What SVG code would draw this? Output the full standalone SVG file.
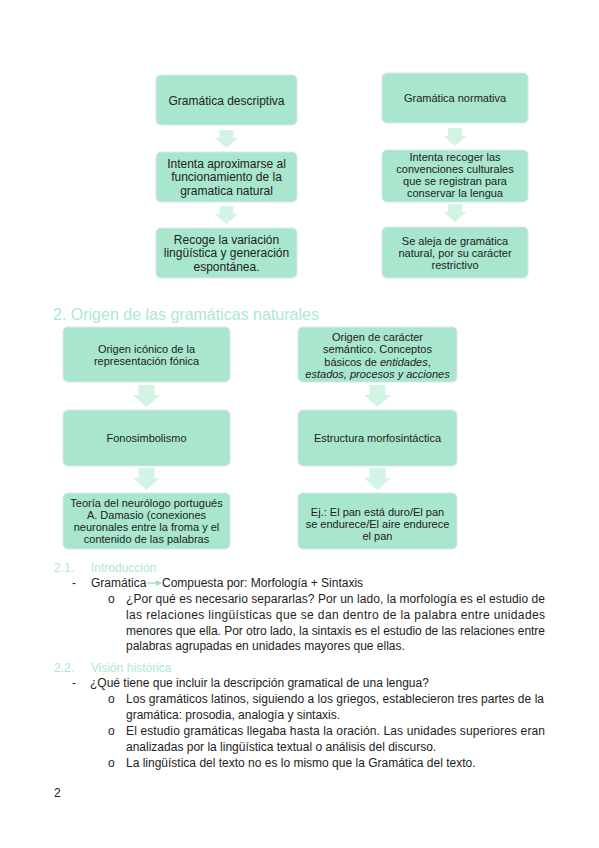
<svg xmlns="http://www.w3.org/2000/svg" width="599" height="848" viewBox="0 0 599 848">
<style>
.box{fill:#a8e6cd;stroke:#dbe4f0;stroke-width:1}
.arr{fill:#d3f3e5}
.t12{font-family:"Liberation Sans",Arial,sans-serif;font-size:12px;fill:#222;text-anchor:middle}
.t11{font-family:"Liberation Sans",Arial,sans-serif;font-size:11px;fill:#222;text-anchor:middle}
.body{font-family:"Liberation Sans",Arial,sans-serif;font-size:12px;fill:#222}
.head{font-family:"Liberation Sans",Arial,sans-serif;fill:#aee8cf}
</style>
<defs>
<path id="arS" d="M-7,0 H7 V8 H11.5 L0,18 L-11.5,8 H-7 Z"/>
<path id="arM" d="M-8,0 H8 V10 H13.5 L0,22 L-13.5,10 H-8 Z"/>
</defs>
<rect width="599" height="848" fill="#fff"/>

<g id="connectors">
<use href="#arS" class="arr" x="226.5" y="130"/>
<use href="#arS" class="arr" x="226.5" y="206"/>
<use href="#arS" class="arr" x="455" y="128"/>
<use href="#arS" class="arr" x="455" y="204"/>
<use href="#arM" class="arr" x="146.5" y="385"/>
<use href="#arM" class="arr" x="146.5" y="468"/>
<use href="#arM" class="arr" x="377.5" y="385"/>
<use href="#arM" class="arr" x="377.5" y="468"/>
</g>

<g id="n-descriptiva">
<rect class="box" x="156" y="75" width="141" height="50" rx="5"/>
<text class="t12" x="226.5" y="104.5">Gramática descriptiva</text>
</g>
<g id="n-aproximarse">
<rect class="box" x="156" y="152" width="141" height="50" rx="5"/>
<text class="t12" x="226.5" y="167.5">Intenta aproximarse al</text>
<text class="t12" x="226.5" y="181">funcionamiento de la</text>
<text class="t12" x="226.5" y="194.5">gramatica natural</text>
</g>
<g id="n-recoge">
<rect class="box" x="156" y="228" width="141" height="50" rx="5"/>
<text class="t12" x="226.5" y="243.5">Recoge la variación</text>
<text class="t12" x="226.5" y="257">lingüística y generación</text>
<text class="t12" x="226.5" y="270.5">espontánea.</text>
</g>

<g id="n-normativa">
<rect class="box" x="382" y="73" width="146" height="50" rx="5"/>
<text class="t11" x="455" y="102">Gramática normativa</text>
</g>
<g id="n-convenciones">
<rect class="box" x="382" y="150" width="146" height="52" rx="5"/>
<text class="t11" x="455" y="160.5">Intenta recoger las</text>
<text class="t11" x="455" y="172.5">convenciones culturales</text>
<text class="t11" x="455" y="184.5">que se registran para</text>
<text class="t11" x="455" y="196.5">conservar la lengua</text>
</g>
<g id="n-aleja">
<rect class="box" x="382" y="227" width="146" height="51" rx="5"/>
<text class="t11" x="455" y="244.5">Se aleja de gramática</text>
<text class="t11" x="455" y="256.5">natural, por su carácter</text>
<text class="t11" x="455" y="268.5">restrictivo</text>
</g>

<text class="head" x="53" y="320" font-size="16">2. Origen de las gramáticas naturales</text>

<g id="n-iconico">
<rect class="box" x="63" y="327" width="167" height="55" rx="5"/>
<text class="t11" x="146.5" y="352.5">Origen icónico de la</text>
<text class="t11" x="146.5" y="364.5">representación fónica</text>
</g>
<g id="n-fonosimbolismo">
<rect class="box" x="63" y="410" width="167" height="56" rx="5"/>
<text class="t11" x="146.5" y="442">Fonosimbolismo</text>
</g>
<g id="n-damasio">
<rect class="box" x="63" y="493" width="167" height="56" rx="5"/>
<text class="t11" x="146.5" y="506.5">Teoría del neurólogo portugués</text>
<text class="t11" x="146.5" y="518.5">A. Damasio (conexiones</text>
<text class="t11" x="146.5" y="530.5">neuronales entre la froma y el</text>
<text class="t11" x="146.5" y="542.5">contenido de las palabras</text>
</g>

<g id="n-semantico">
<rect class="box" x="298" y="327" width="159" height="55" rx="5"/>
<text class="t11" x="377.5" y="340.5">Origen de carácter</text>
<text class="t11" x="377.5" y="353">semántico. Conceptos</text>
<text class="t11" x="377.5" y="365.5">básicos de <tspan font-style="italic">entidades</tspan>,</text>
<text class="t11" x="377.5" y="378" font-style="italic">estados, procesos y acciones</text>
</g>
<g id="n-morfosintactica">
<rect class="box" x="298" y="410" width="159" height="56" rx="5"/>
<text class="t11" x="377.5" y="442">Estructura morfosintáctica</text>
</g>
<g id="n-ejemplo">
<rect class="box" x="298" y="493" width="159" height="56" rx="5"/>
<text class="t11" x="377.5" y="516">Ej.: El pan está duro/El pan</text>
<text class="t11" x="377.5" y="528">se endurece/El aire endurece</text>
<text class="t11" x="377.5" y="540">el pan</text>
</g>

<g id="text-section">
<text class="head" x="54" y="572" font-size="12">2.1.</text>
<text class="head" x="91" y="572" font-size="12">Introducción</text>
<text class="body" x="72" y="587">-</text>
<text class="body" x="91" y="587">Gramática</text>
<line x1="147" y1="583" x2="157" y2="583" stroke="#9fe0c3" stroke-width="1.5"/>
<path d="M156,580 L162,583 L156,586 Z" fill="#9fe0c3"/>
<text class="body" x="162" y="587">Compuesta por: Morfología + Sintaxis</text>
<text class="body" x="108" y="603">o</text>
<text class="body" x="126" y="603" textLength="419" lengthAdjust="spacing">¿Por qué es necesario separarlas? Por un lado, la morfología es el estudio de</text>
<text class="body" x="126" y="619" textLength="419" lengthAdjust="spacing">las relaciones lingüísticas que se dan dentro de la palabra entre unidades</text>
<text class="body" x="126" y="634.5" textLength="419" lengthAdjust="spacing">menores que ella. Por otro lado, la sintaxis es el estudio de las relaciones entre</text>
<text class="body" x="126" y="650">palabras agrupadas en unidades mayores que ellas.</text>

<text class="head" x="54" y="672" font-size="12">2.2.</text>
<text class="head" x="91" y="672" font-size="12">Visión histórica</text>
<text class="body" x="72" y="687">-</text>
<text class="body" x="90" y="687">¿Qué tiene que incluir la descripción gramatical de una lengua?</text>
<text class="body" x="108" y="703">o</text>
<text class="body" x="126" y="703" textLength="418" lengthAdjust="spacing">Los gramáticos latinos, siguiendo a los griegos, establecieron tres partes de la</text>
<text class="body" x="126" y="718.5">gramática: prosodia, analogía y sintaxis.</text>
<text class="body" x="108" y="735">o</text>
<text class="body" x="126" y="735" textLength="419" lengthAdjust="spacing">El estudio gramáticas llegaba hasta la oración. Las unidades superiores eran</text>
<text class="body" x="126" y="750.5">analizadas por la lingüística textual o análisis del discurso.</text>
<text class="body" x="108" y="767">o</text>
<text class="body" x="126" y="767">La lingüística del texto no es lo mismo que la Gramática del texto.</text>
<text class="body" x="54" y="797">2</text>
</g>
</svg>
